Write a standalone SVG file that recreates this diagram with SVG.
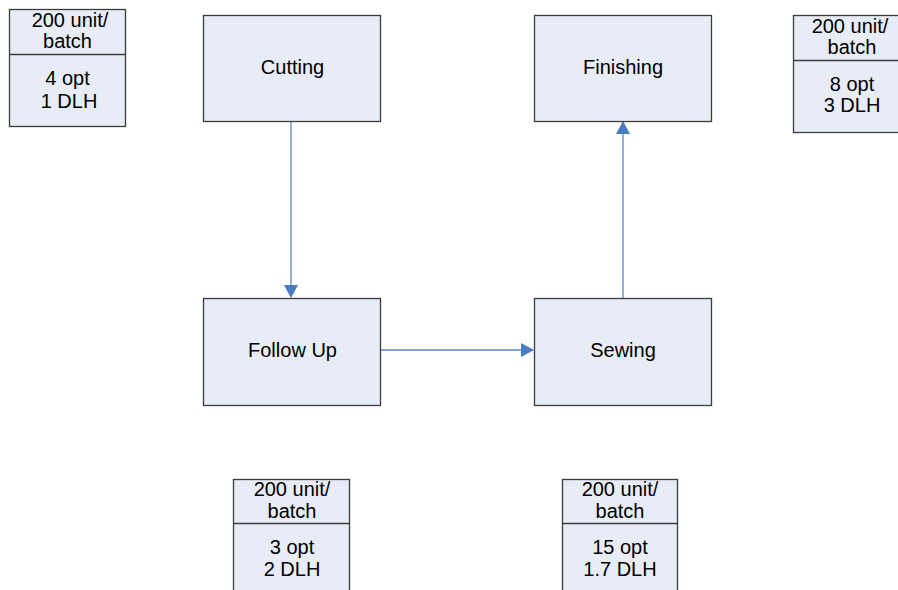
<svg xmlns="http://www.w3.org/2000/svg" width="898" height="590" viewBox="0 0 898 590">
<style>
.box{fill:#E8ECF6;stroke:#3C3C3C;stroke-width:1.3}
.t{font-family:"Liberation Sans",Arial,sans-serif;font-size:20px;fill:#000;text-anchor:middle}
.c{stroke:#5B87C5;stroke-width:1.3;fill:none}
.d{stroke:#3C3C3C;stroke-width:1.3}
</style>
<defs>
<marker id="ah" markerWidth="14" markerHeight="14" refX="12" refY="7" orient="auto" markerUnits="userSpaceOnUse">
<path d="M0,0 L13,7 L0,14 Z" fill="#4A7CC0"/>
</marker>
</defs>
<rect width="898" height="590" fill="#fff"/>
<g id="connectors">
<line class="c" x1="291" y1="121" x2="291" y2="297" marker-end="url(#ah)"/>
<line class="c" x1="380" y1="350" x2="533" y2="350" marker-end="url(#ah)"/>
<line class="c" x1="623" y1="298" x2="623" y2="122" marker-end="url(#ah)"/>
</g>
<g id="cutting">
<rect class="box" x="203.5" y="15.5" width="177" height="106"/>
<text class="t" x="292.5" y="74">Cutting</text>
</g>
<g id="finishing">
<rect class="box" x="534.5" y="15.5" width="177" height="106"/>
<text class="t" x="623" y="74">Finishing</text>
</g>
<g id="followup">
<rect class="box" x="203.5" y="298.5" width="177" height="107"/>
<text class="t" x="292.5" y="357">Follow Up</text>
</g>
<g id="sewing">
<rect class="box" x="534.5" y="298.5" width="177" height="107"/>
<text class="t" x="623" y="357">Sewing</text>
</g>
<g id="note-cutting">
<rect class="box" x="9.5" y="9.5" width="116" height="117"/>
<line class="d" x1="9.5" y1="54.5" x2="125.5" y2="54.5"/>
<text class="t" x="70" y="27">200 unit/</text>
<text class="t" x="67.5" y="48">batch</text>
<text class="t" x="67.5" y="85">4 opt</text>
<text class="t" x="69" y="108">1 DLH</text>
</g>
<g id="note-finishing">
<rect class="box" x="793.5" y="15.5" width="110" height="117"/>
<line class="d" x1="793.5" y1="60.5" x2="898" y2="60.5"/>
<text class="t" x="850" y="33">200 unit/</text>
<text class="t" x="852" y="54">batch</text>
<text class="t" x="852" y="91">8 opt</text>
<text class="t" x="852" y="112">3 DLH</text>
</g>
<g id="note-followup">
<rect class="box" x="233.5" y="479.5" width="116" height="120"/>
<line class="d" x1="233.5" y1="523.5" x2="349.5" y2="523.5"/>
<text class="t" x="292" y="496">200 unit/</text>
<text class="t" x="292" y="518">batch</text>
<text class="t" x="292" y="554">3 opt</text>
<text class="t" x="292" y="576">2 DLH</text>
</g>
<g id="note-sewing">
<rect class="box" x="562.5" y="479.5" width="115" height="120"/>
<line class="d" x1="562.5" y1="523.5" x2="677.5" y2="523.5"/>
<text class="t" x="620" y="496">200 unit/</text>
<text class="t" x="620" y="518">batch</text>
<text class="t" x="620" y="554">15 opt</text>
<text class="t" x="620" y="576">1.7 DLH</text>
</g>
</svg>
